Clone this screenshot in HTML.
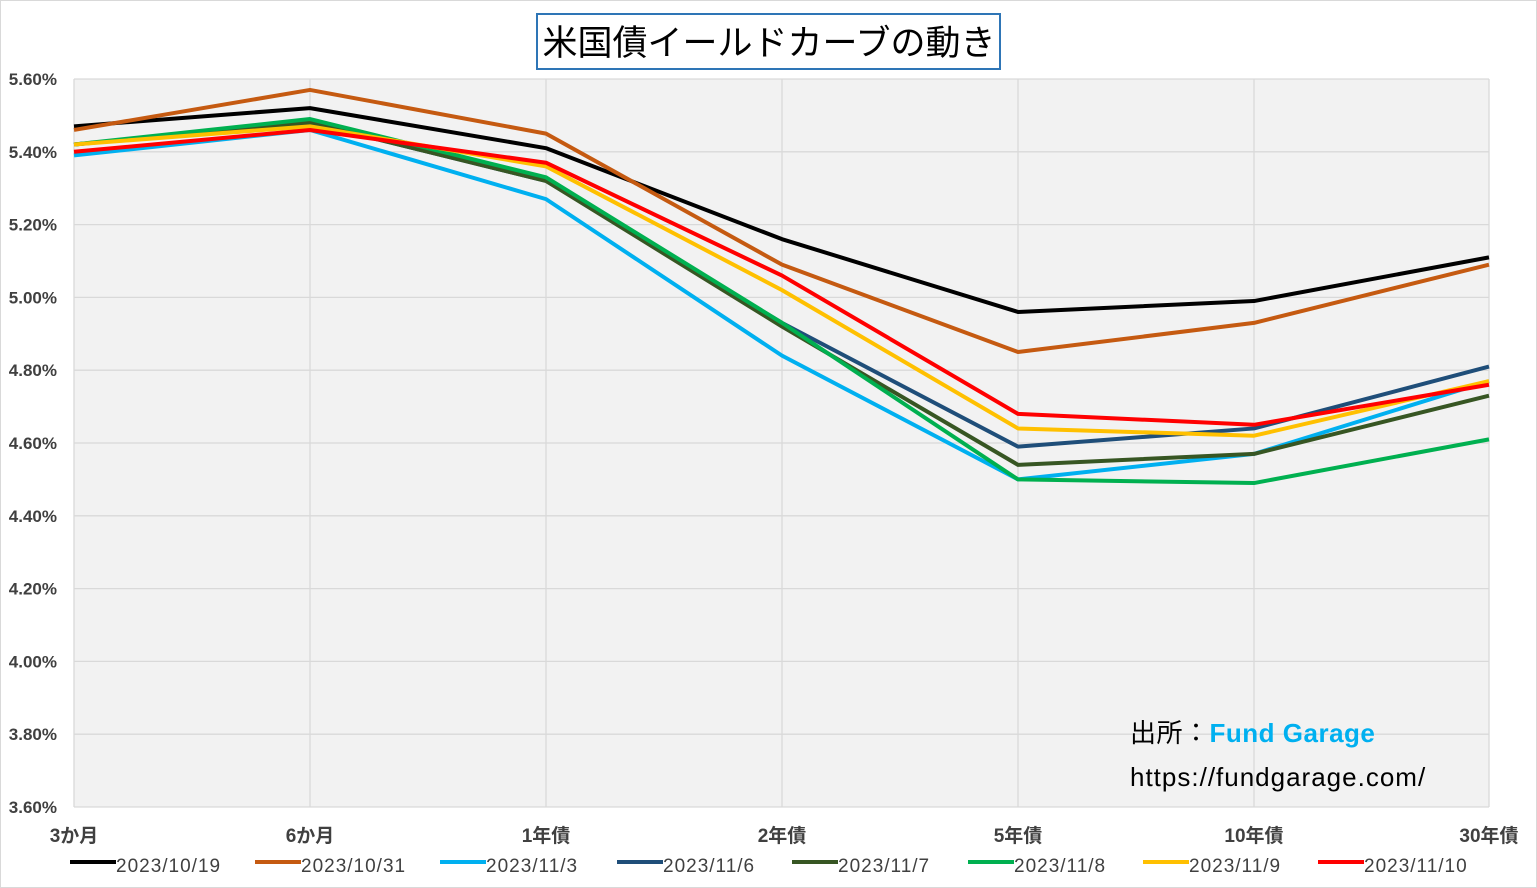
<!DOCTYPE html>
<html><head><meta charset="utf-8"><style>
body{margin:0;background:#fff;}
svg{display:block;font-family:"Liberation Sans","Noto Sans CJK JP",sans-serif;}
</style></head><body>
<svg id="c" width="1537" height="888" xmlns="http://www.w3.org/2000/svg">
<rect x="0.5" y="0.5" width="1536" height="887" fill="#fff" stroke="#d9d9d9"/>
<rect x="74" y="79" width="1415" height="728" fill="#f2f2f2"/>
<g id="grid"></g>
<g id="lines"></g>
<rect x="537" y="14" width="463" height="55" fill="#fff" stroke="#2e75b6" stroke-width="2"/>
<text x="769" y="55" font-size="35" text-anchor="middle" fill="#000">米国債イールドカーブの動き</text>
<text x="1130" y="742" font-size="26" fill="#000" letter-spacing="0.5">出所：<tspan fill="#00b0f0" font-weight="bold">Fund Garage</tspan></text>
<text x="1130" y="786" font-size="26" fill="#000" letter-spacing="1">https://fundgarage.com/</text>
<g id="leg" font-size="19" fill="#404040" letter-spacing="1"></g>
</svg>
<script>
var ns="http://www.w3.org/2000/svg";
function el(p,t,a,txt){var e=document.createElementNS(ns,t);for(var k in a)e.setAttribute(k,a[k]);if(txt)e.textContent=txt;document.getElementById(p).appendChild(e);return e;}
var xs=[74,310,546,782,1018,1254,1489];
function y(v){return 807-(v-3.6)*364;}
for(var i=0;i<=10;i++){var v=3.6+i*0.2,yy=y(v);
 el('grid','line',{x1:74,x2:1489,y1:yy,y2:yy,stroke:'#d9d9d9','stroke-width':1.3});
 el('grid','text',{x:57,y:yy+6,'font-size':17,'font-weight':'bold','text-anchor':'end',fill:'#404040'},v.toFixed(2)+'%');}
var cats=['3か月','6か月','1年債','2年債','5年債','10年債','30年債'];
xs.forEach(function(x,i){el('grid','line',{x1:x,x2:x,y1:79,y2:807,stroke:'#d9d9d9','stroke-width':1.3});
 el('grid','text',{x:x,y:842,'font-size':19,'font-weight':'bold','text-anchor':'middle',fill:'#404040'},cats[i]);});
var S=[
['2023/10/19','#000000',[5.47,5.52,5.41,5.16,4.96,4.99,5.11]],
['2023/10/31','#c55a11',[5.46,5.57,5.45,5.09,4.85,4.93,5.09]],
['2023/11/3','#00b0f0',[5.39,5.46,5.27,4.84,4.50,4.57,4.77]],
['2023/11/6','#1f4e79',[5.42,5.48,5.32,4.93,4.59,4.64,4.81]],
['2023/11/7','#375623',[5.42,5.48,5.32,4.92,4.54,4.57,4.73]],
['2023/11/8','#00b050',[5.42,5.49,5.33,4.93,4.50,4.49,4.61]],
['2023/11/9','#ffc000',[5.42,5.47,5.36,5.02,4.64,4.62,4.77]],
['2023/11/10','#ff0000',[5.40,5.46,5.37,5.06,4.68,4.65,4.76]]];
var lx=[70,255,440,617,792,968,1143,1318];
S.forEach(function(s,i){
 el('lines','polyline',{points:s[2].map(function(v,j){return xs[j]+','+y(v)}).join(' '),fill:'none',stroke:s[1],'stroke-width':4,'stroke-linejoin':'round'});
 el('leg','line',{x1:lx[i],x2:lx[i]+46,y1:862,y2:862,stroke:s[1],'stroke-width':4});
 el('leg','text',{x:lx[i]+46,y:872},s[0]);});
</script>
</body></html>
